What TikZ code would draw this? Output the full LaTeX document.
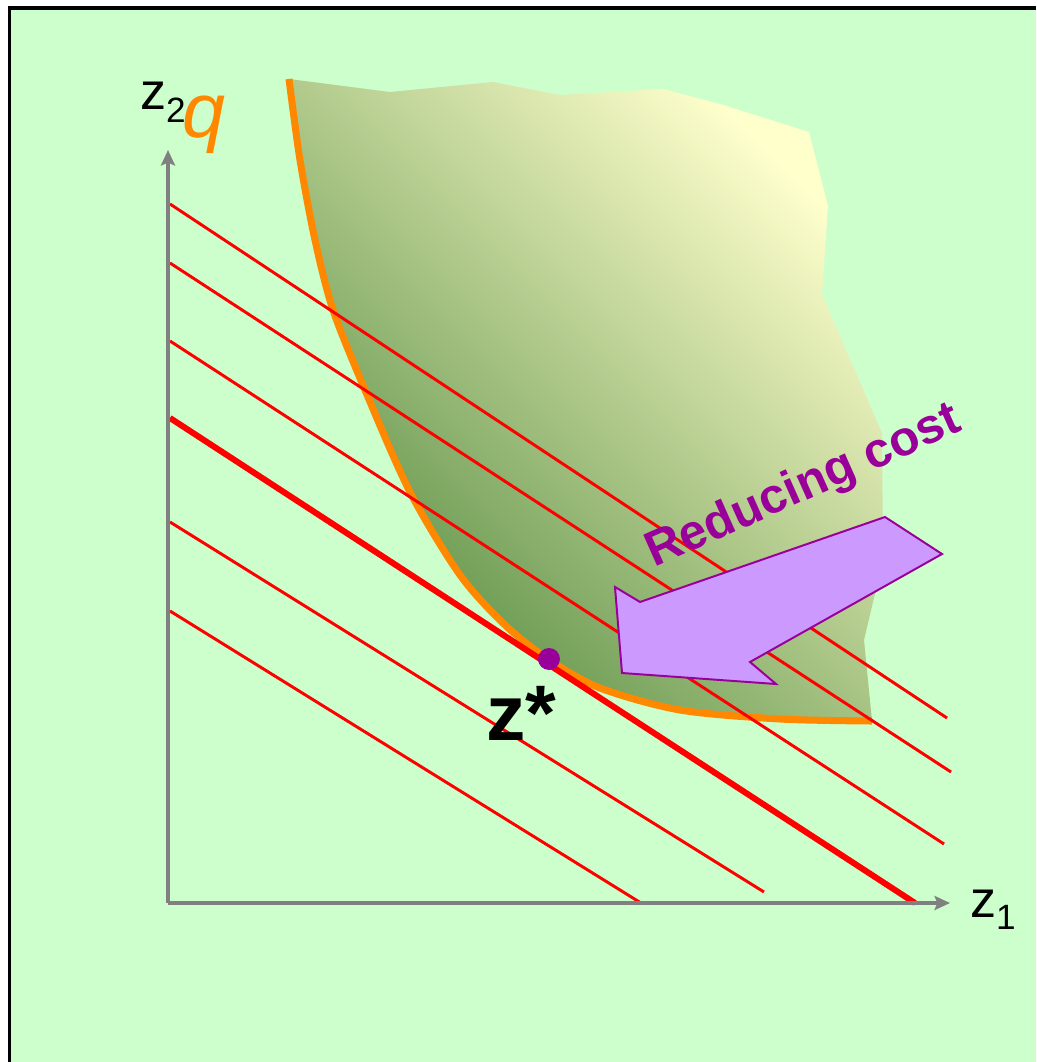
\documentclass[tikz,border=0pt]{standalone}
\usepackage{fontspec}
\setmainfont{Liberation Sans}
\usetikzlibrary{arrows.meta, positioning}
\definecolor{bggreen}{HTML}{CCFFCC}
\definecolor{costred}{HTML}{FF0000}
\definecolor{qorange}{HTML}{FF8800}
\definecolor{axisgray}{HTML}{808080}
\definecolor{plum}{HTML}{990099}
\definecolor{lilac}{HTML}{CC99FF}
\definecolor{setgreen}{HTML}{5A8F45}
\definecolor{setyellow}{HTML}{FFFFCC}

\begin{document}
\begin{tikzpicture}[x=0.025cm, y=-0.025cm,
    axis/.style={draw=axisgray, line width=3.5pt, -{Stealth[length=11pt, width=10pt, inset=2pt]}},
    costline/.style={draw=costred, line width=2.1pt},
    boundary/.style={draw=qorange, line width=5pt},
    every node/.style={inner sep=0pt, outer sep=0pt}]
    \useasboundingbox (0,0) rectangle (1036,1062);
    \clip (0,0) rectangle (1036,1062);
    \fill[white] (0,0) rectangle (1036,1062);
    \fill[bggreen] (9.5,8) rectangle (1036,1062);
    \draw[black, line width=2.8pt] (9.5,1062) -- (9.5,8) -- (1036,8);

    % feasible set
    \shade[top color=setyellow, bottom color=setgreen, shading angle=-45]
        (289,79) -- (390,92) -- (493,82) -- (560,95) -- (663,89) -- (720,104)
        -- (809,132) -- (828,206) -- (822,295) -- (882,433) -- (883,560)
        -- (864,640) -- (872,721)
        -- plot[smooth] coordinates {(872,721) (780,719) (680,710) (600,688)
            (548,659) (505,625) (460,575) (410,492) (365,390) (333,310)
            (315,240) (300,160) (289,79)} -- cycle;
    \draw[boundary] plot[smooth] coordinates {(289,79) (300,160) (315,240)
        (333,310) (365,390) (410,492) (460,575) (505,625) (548,659) (600,688)
        (680,710) (780,719) (872,721)};

    % level lines of the cost
    \foreach \ya/\xb/\yb in {204/947/718, 263/951/772, 341/944/844, 522/764/892, 611/641/903}
        \draw[costline] (170,\ya) -- (\xb,\yb);
    \draw[costline, line width=4.3pt] (170,418) -- (915,903);

    % axes
    \coordinate (origin) at (168,903);
    \coordinate (xtip) at (950,903);
    \coordinate (ytip) at (168,150);
    \draw[axis] (origin) -- (xtip);
    \draw[axis] (origin) -- (ytip);

    % direction of decreasing cost
    \filldraw[fill=lilac, draw=plum, line width=1.4pt]
        (885,517) -- (942,554) -- (750,662) -- (776,684) -- (622,673)
        -- (615,587) -- (640,602) -- cycle;
    \node[anchor=base, rotate=24, text=plum, font=\fontsize{35}{40}\selectfont\bfseries]
        (cost) at (809,499) {Reducing cost};

    \node[circle, fill=plum, minimum size=15.6pt] (zdot) at (549,659) {};
    \node[anchor=base west, font=\fontsize{56}{60}\selectfont\bfseries] (zstar) at (486,740) {z*};

    \node[anchor=base west, font=\fontsize{37}{40}\selectfont] (ztwo) at (140,110)
        {z\raisebox{-9pt}{\fontsize{25}{25}\selectfont 2}};
    \node[anchor=base west, text=qorange, font=\fontsize{55}{60}\selectfont\itshape] (qlabel) at (182,138) {q};
    \node[anchor=base west, font=\fontsize{37}{40}\selectfont] (zone) at (970,917)
        {z\raisebox{-9pt}{\fontsize{25}{25}\selectfont 1}};
\end{tikzpicture}
\end{document}
